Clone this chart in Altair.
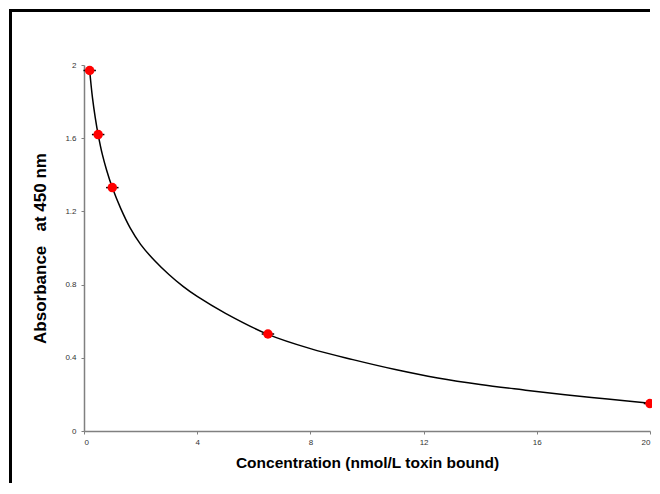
import altair as alt
import pandas as pd

# measured points
conc = [0.2, 0.5, 1.0, 6.5, 20.0]
absorb = [1.97, 1.62, 1.33, 0.53, 0.15]
x_err = [0.22, 0.22, 0.22, 0.22, 0.22]

# fitted curve
curve_x = [0.2, 0.3, 0.4, 0.5, 0.65, 0.8, 1.0, 1.3, 1.63, 2.0, 2.5, 3.0, 3.5,
           4.0, 5.0, 6.5, 8.0, 9.5, 11.0, 12.5, 14.0, 15.5, 17.0, 18.5, 20.0]
curve_y = [1.97, 1.82, 1.71, 1.62, 1.51, 1.425, 1.33, 1.215, 1.11, 1.02,
           0.93, 0.855, 0.79, 0.735, 0.643, 0.528, 0.45, 0.39, 0.336, 0.29,
           0.254, 0.225, 0.198, 0.175, 0.151]

x_ticks = [0, 4, 8, 12, 16, 20]
y_ticks = [0, 0.4, 0.8, 1.2, 1.6, 2]

pts = pd.DataFrame({"x": conc, "y": absorb,
                    "lo": [c - e for c, e in zip(conc, x_err)],
                    "hi": [c + e for c, e in zip(conc, x_err)]})
crv = pd.DataFrame({"x": curve_x, "y": curve_y})

FONT = "Liberation Sans"

xscale = alt.Scale(domain=[0, 20], nice=False, zero=False)
yscale = alt.Scale(domain=[0, 2], nice=False, zero=False)

xaxis = alt.Axis(values=x_ticks, title="Concentration (nmol/L toxin bound)",
                 format="~g",
                 grid=False, domainColor="#808080", domainWidth=1.5,
                 tickColor="#808080", tickSize=3, tickWidth=1,
                 labelFont=FONT, labelFontSize=8, labelColor="#333333",
                 labelPadding=4, titleFont=FONT, titleFontSize=15.5,
                 titleFontWeight="bold", titleColor="black", titlePadding=9)
yaxis = alt.Axis(values=y_ticks, title="Absorbance\u00a0\u00a0 at 450 nm",
                 format="~g",
                 grid=False, domainColor="#808080", domainWidth=1.5,
                 tickColor="#808080", tickSize=3, tickWidth=1,
                 labelFont=FONT, labelFontSize=8, labelColor="#333333",
                 labelPadding=5, titleFont=FONT, titleFontSize=17,
                 titleFontWeight="bold", titleColor="black", titlePadding=15)

one = pd.DataFrame({"k": [0]})
frame_left = alt.Chart(one).mark_rect(color="black", opacity=1).encode(
    x=alt.value(-75), x2=alt.value(-72), y=alt.value(-56), y2=alt.value(418))
frame_top = alt.Chart(one).mark_rect(color="black", opacity=1).encode(
    x=alt.value(-75), x2=alt.value(566), y=alt.value(-56), y2=alt.value(-53))

line = alt.Chart(crv).mark_line(color="black", strokeWidth=1.5,
                                interpolate="catmull-rom").encode(
    x=alt.X("x:Q", scale=xscale, axis=xaxis),
    y=alt.Y("y:Q", scale=yscale, axis=yaxis),
)

err = alt.Chart(pts).mark_rule(color="black", strokeWidth=1.5).encode(
    x="lo:Q", x2="hi:Q", y="y:Q"
)

dots = alt.Chart(pts).mark_circle(color="#ff0000", size=90, opacity=1).encode(
    x="x:Q", y="y:Q"
)

chart = alt.layer(frame_left, frame_top, line, err, dots).properties(
    width=566, height=366,
    autosize=alt.AutoSizeParams(type="none"),
    padding={"left": 76, "top": 57, "right": 2, "bottom": 55},
    background="white",
).configure_view(stroke=None)

chart.save("out.html", embed_options={"renderer": "svg", "actions": False})
